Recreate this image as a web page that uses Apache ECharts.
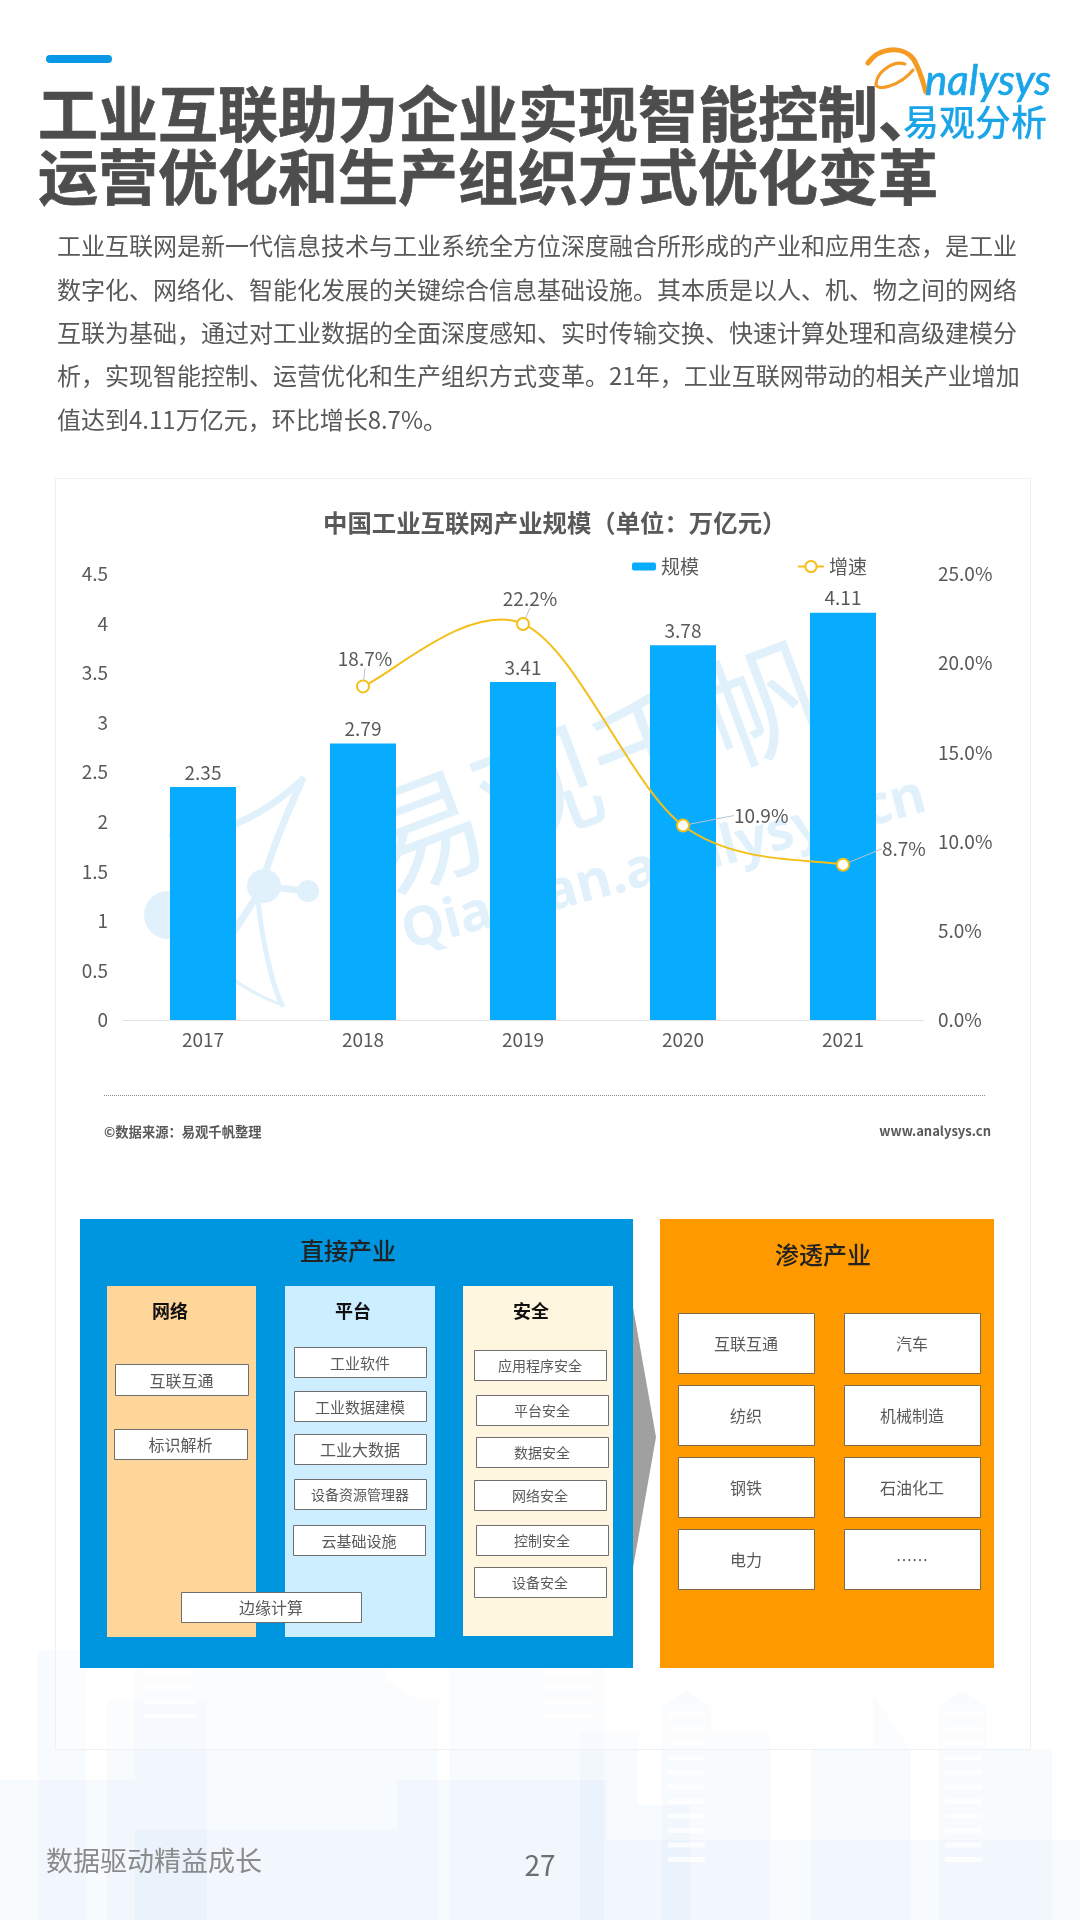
<!DOCTYPE html>
<html lang="zh-CN">

<head>
  <meta charset="UTF-8">
  <title>工业互联助力企业实现智能控制</title>
  <script src="https://cdn.jsdelivr.net/npm/echarts@6/dist/echarts.min.js"></script>
  <style>
    html, body { margin: 0; padding: 0; background: #fff; }
    #main { width: 1080px; height: 1920px; }
  </style>
</head>

<body>
  <div id="main"></div>
  <script>
    // 图表数据
    var years = ['2017', '2018', '2019', '2020', '2021'];
    var scaleValues = [2.35, 2.79, 3.41, 3.78, 4.11];
    var growthValues = [null, 18.7, 22.2, 10.9, 8.7];
    var seriesNames = ['规模', '增速'];

    // 文字
    var titleLines = ['工业互联助力企业实现智能控制、', '运营优化和生产组织方式优化变革'];
    var paragraphLines = [
      '工业互联网是新一代信息技术与工业系统全方位深度融合所形成的产业和应用生态，是工业',
      '数字化、网络化、智能化发展的关键综合信息基础设施。其本质是以人、机、物之间的网络',
      '互联为基础，通过对工业数据的全面深度感知、实时传输交换、快速计算处理和高级建模分',
      '析，实现智能控制、运营优化和生产组织方式变革。21年，工业互联网带动的相关产业增加',
      '值达到4.11万亿元，环比增长8.7%。'
    ];
    var networkItems = ['互联互通', '标识解析'];
    var platformItems = ['工业软件', '工业数据建模', '工业大数据', '设备资源管理器', '云基础设施'];
    var securityItems = ['应用程序安全', '平台安全', '数据安全', '网络安全', '控制安全', '设备安全'];
    var sectorItems = ['互联互通', '汽车', '纺织', '机械制造', '钢铁', '石油化工', '电力', '……'];

    var FONT = '"Noto Sans CJK SC", "Noto Sans", sans-serif';
    var TEXT_GREY = '#595959';
    var LINE_COLOR = '#f5bf1a';

    function txt(s, x, y, size, fill, opt) {
      opt = opt || {};
      return {
        type: 'text',
        rotation: opt.rotation || 0,
        x: x,
        y: y,
        style: {
          text: s,
          fill: fill,
          stroke: opt.stroke || null,
          lineWidth: opt.stroke ? 0.7 : 0,
          fontSize: size,
          fontFamily: opt.family || FONT,
          fontWeight: opt.weight || 'normal',
          fontStyle: opt.italic ? 'italic' : 'normal',
          textAlign: opt.align || 'left',
          textVerticalAlign: 'middle'
        }
      };
    }

    function rect(x, y, w, h, fill, stroke, r) {
      return {
        type: 'rect',
        shape: { x: x, y: y, width: w, height: h, r: r || 0 },
        style: { fill: fill, stroke: stroke || null, lineWidth: stroke ? 1 : 0 }
      };
    }

    function curve(p, color, width) {
      return {
        type: 'bezierCurve',
        shape: { x1: p[0], y1: p[1], cpx1: p[2], cpy1: p[3], cpx2: p[4], cpy2: p[5], x2: p[6], y2: p[7] },
        style: { fill: null, stroke: color, lineWidth: width, lineCap: 'round' }
      };
    }

    // 白底带框的小格子
    function box(label, x, y, w, h, size, stroke) {
      return [
        rect(x + 0.5, y + 0.5, w, h, '#fff', stroke || '#6f6f6f'),
        txt(label, x + w / 2, y + h / 2 + 1, size, TEXT_GREY, { align: 'center' })
      ];
    }

    var g = [];

    // 底部城市背景
    var buildings = [
      [38, 48, 1650], [107, 100, 1700], [135, 72, 1668], [207, 83, 1668], [290, 96, 1668],
      [386, 52, 1700], [449, 155, 1668], [580, 58, 1732], [397, 210, 1780], [638, 52, 1805],
      [662, 49, 1707], [711, 59, 1732], [811, 100, 1750], [939, 48, 1707], [987, 65, 1750],
      [0, 135, 1780], [135, 262, 1830], [607, 473, 1840]
    ];
    buildings.forEach(function (b) {
      g.push(rect(b[0], b[2], b[1], 1920 - b[2], 'rgba(70,150,235,0.035)'));
    });
    g.push({ type: 'polygon', shape: { points: [[662, 1707], [686, 1690], [711, 1707]] }, style: { fill: 'rgba(70,150,235,0.05)' } });
    g.push({ type: 'polygon', shape: { points: [[939, 1707], [963, 1690], [987, 1707]] }, style: { fill: 'rgba(70,150,235,0.05)' } });
    g.push({ type: 'polygon', shape: { points: [[386, 1700], [386, 1680], [420, 1700]] }, style: { fill: 'rgba(70,150,235,0.035)' } });
    g.push({ type: 'polygon', shape: { points: [[873, 1695], [873, 1750], [911, 1750]] }, style: { fill: 'rgba(70,150,235,0.035)' } });
    [[668, 37, 1712, 11], [945, 37, 1712, 11], [144, 52, 1670, 4], [542, 52, 1670, 4]].forEach(function (s) {
      for (var i = 0; i < s[3]; i++) {
        g.push(rect(s[0], s[2] + i * 14.5, s[1], 5, 'rgba(255,255,255,0.75)'));
      }
    });

    // 卡片边框
    g.push(rect(55.5, 478.5, 975, 1271, 'rgba(255,255,255,0.35)', '#eef1f4'));

    // 页眉
    g.push(rect(46, 55, 66, 8, '#0a97e6', null, 4));
    titleLines.forEach(function (s, i) {
      g.push(txt(s, 38, 114 + i * 63, 60, '#4d4d4d', { weight: 'bold', stroke: '#4d4d4d' }));
    });
    paragraphLines.forEach(function (s, i) {
      g.push(txt(s, 57, 246 + i * 43.4, 24, TEXT_GREY));
    });

    // 右上角标志
    g.push(curve([868, 63, 880, 46, 905, 46, 914, 60], '#f59a23', 5));
    g.push(curve([914, 60, 920, 70, 923, 82, 926, 92], '#f59a23', 5));
    g.push(curve([905, 64, 893, 60, 877, 72, 876, 84], '#f59a23', 3));
    g.push(curve([876, 84, 876, 92, 900, 86, 913, 70], '#f59a23', 3));
    g.push(txt('nalysys', 925, 81, 42, '#1aa5e8', { family: 'Lato, "Open Sans", sans-serif', italic: true, stroke: '#1aa5e8' }));
    g.push(txt('易观分析', 903, 122, 36, '#1aa5e8', { weight: 500 }));

    // 水印
    var WM = '#e0f1fc';
    g.push(txt('易观千帆', 594, 767, 122, WM, { rotation: 0.36, align: 'center' }));
    g.push(txt('Qianfan.analysys.cn', 664, 865, 54, WM, { rotation: 0.26, align: 'center', family: '"Noto Sans", sans-serif', weight: 'bold' }));
    g.push({ type: 'circle', shape: { cx: 264, cy: 886, r: 17 }, style: { fill: WM } });
    g.push({ type: 'circle', shape: { cx: 308, cy: 891, r: 11 }, style: { fill: WM } });
    g.push({ type: 'circle', shape: { cx: 168, cy: 915, r: 24 }, style: { fill: WM } });
    g.push(curve([172, 835, 220, 840, 270, 810, 302, 780], WM, 7));
    g.push(curve([302, 780, 280, 830, 268, 860, 262, 886], WM, 7));
    g.push(curve([264, 886, 280, 888, 295, 890, 308, 891], WM, 7));
    g.push(curve([264, 886, 240, 920, 225, 950, 205, 965], WM, 7));
    g.push(curve([258, 900, 262, 940, 272, 985, 282, 1005], WM, 5));
    g.push(curve([282, 1005, 240, 990, 205, 960, 190, 935], WM, 3));

    // 数据来源
    g.push({ type: 'line', shape: { x1: 104, y1: 1095.5, x2: 986, y2: 1095.5 }, style: { stroke: '#8c8c8c', lineWidth: 1, lineDash: [1, 1] } });
    g.push(txt('©数据来源：易观千帆整理', 104, 1132, 13.3, TEXT_GREY, { weight: 'bold' }));
    g.push(txt('www.analysys.cn', 991, 1131, 13, TEXT_GREY, { align: 'right', weight: 'bold' }));

    // 直接产业
    g.push(rect(80, 1219, 553, 449, '#0095df'));
    g.push(txt('直接产业', 348, 1251, 24, '#222', { align: 'center', weight: 500 }));
    g.push(rect(107, 1286, 149, 351, '#ffd699'));
    g.push(rect(285, 1286, 150, 351, '#cdeeff'));
    g.push(rect(463, 1286, 150, 350, '#fff6e0'));
    g.push(txt('网络', 170, 1311, 18, '#111', { align: 'center', weight: 'bold' }));
    g.push(txt('平台', 353, 1311, 18, '#111', { align: 'center', weight: 'bold' }));
    g.push(txt('安全', 531, 1311, 18, '#111', { align: 'center', weight: 'bold' }));

    var networkBoxes = [[115, 1364, 31], [114, 1429, 30]];
    networkItems.forEach(function (s, i) {
      g = g.concat(box(s, networkBoxes[i][0], networkBoxes[i][1], 133, networkBoxes[i][2], 16));
    });
    var platformBoxes = [[294, 1347, 15], [294, 1391, 15], [294, 1434, 16], [294, 1479, 14], [293, 1525, 15]];
    platformItems.forEach(function (s, i) {
      g = g.concat(box(s, platformBoxes[i][0], platformBoxes[i][1], 132, 30, platformBoxes[i][2]));
    });
    var securityBoxes = [[474, 1350], [476, 1395], [476, 1437], [474, 1480], [476, 1525], [474, 1567]];
    securityItems.forEach(function (s, i) {
      g = g.concat(box(s, securityBoxes[i][0], securityBoxes[i][1], 132, 30, 14));
    });
    g = g.concat(box('边缘计算', 181, 1592, 180, 30, 16));

    // 箭头
    g.push({ type: 'polygon', shape: { points: [[633, 1307], [656, 1437], [633, 1568]] }, style: { fill: '#a0a0a0' } });

    // 渗透产业
    g.push(rect(660, 1219, 334, 449, '#ff9900'));
    g.push(txt('渗透产业', 823, 1255, 24, '#222', { align: 'center', weight: 500 }));
    var sectorCols = [678, 844];
    var sectorRows = [1313, 1385, 1457, 1529];
    sectorItems.forEach(function (s, i) {
      g = g.concat(box(s, sectorCols[i % 2], sectorRows[Math.floor(i / 2)], 136, 60, 16, '#7d6a45'));
    });

    // 页脚
    g.push(txt('数据驱动精益成长', 46, 1861, 27, '#8a8a8a'));
    g.push(txt('27', 540, 1865, 28, '#6f6f6f', { align: 'center' }));

    // 增速折线标签的偏移
    var growthLabels = [
      null,
      { position: 'top', dist: 11, dx: 2, dy: 0 },
      { position: 'top', dist: 9, dx: 7, dy: 0 },
      { position: 'right', dist: 8, dx: 36, dy: -10 },
      { position: 'right', dist: 8, dx: 24, dy: -16 }
    ];
    var growthData = growthValues.map(function (v, i) {
      var l = growthLabels[i];
      if (v === null) return { value: null };
      return { value: v, label: { position: l.position, distance: l.dist } };
    });

    // 曲线按 Excel 的平滑方式画，峰值可以略超过数据点，line 系列的 smooth 做不到
    function renderCurve(params, api) {
      var i = params.dataIndex;
      if (growthValues[i] === null || i === growthValues.length - 1) return null;
      function pt(k) {
        k = Math.max(1, Math.min(growthValues.length - 1, k));
        return api.coord([k, growthValues[k]]);
      }
      var p0 = pt(i - 1), p1 = pt(i), p2 = pt(i + 1), p3 = pt(i + 2);
      return {
        type: 'bezierCurve',
        shape: {
          x1: p1[0], y1: p1[1],
          cpx1: p1[0] + (p2[0] - p0[0]) / 6, cpy1: p1[1] + (p2[1] - p0[1]) / 6,
          cpx2: p2[0] - (p3[0] - p1[0]) / 6, cpy2: p2[1] - (p3[1] - p1[1]) / 6,
          x2: p2[0], y2: p2[1]
        },
        style: { fill: null, stroke: LINE_COLOR, lineWidth: 2 }
      };
    }

    var myChart = echarts.init(document.getElementById('main'));
    var option = {
      animation: false,
      backgroundColor: '#fff',
      textStyle: { fontFamily: FONT },
      title: {
        text: '中国工业互联网产业规模（单位：万亿元）',
        left: 318,
        top: 506,
        textStyle: { fontSize: 24.4, fontWeight: 'bold', color: TEXT_GREY, fontFamily: FONT }
      },
      legend: [
        {
          data: [seriesNames[0]], left: 627, top: 552, itemWidth: 24, itemHeight: 8, itemGap: 0,
          textStyle: { fontSize: 19, color: TEXT_GREY, fontFamily: FONT }
        },
        {
          data: [seriesNames[1]], left: 792, top: 552, itemWidth: 26, itemHeight: 14, itemGap: 0,
          lineStyle: { color: LINE_COLOR, width: 2, opacity: 1 },
          textStyle: { fontSize: 19, color: TEXT_GREY, fontFamily: FONT }
        }
      ],
      grid: { left: 123, right: 157, top: 574, height: 446 },
      xAxis: {
        type: 'category',
        data: years,
        axisTick: { show: false },
        axisLine: { lineStyle: { color: '#dfe3e8' } },
        axisLabel: { fontSize: 19, color: TEXT_GREY, margin: 10 }
      },
      yAxis: [
        {
          type: 'value', min: 0, max: 4.5, interval: 0.5,
          splitLine: { show: false }, axisLine: { show: false }, axisTick: { show: false },
          axisLabel: { fontSize: 19, color: TEXT_GREY, margin: 15 }
        },
        {
          type: 'value', min: 0, max: 25, interval: 5,
          splitLine: { show: false }, axisLine: { show: false }, axisTick: { show: false },
          axisLabel: {
            fontSize: 19, color: TEXT_GREY, margin: 15,
            formatter: function (v) { return v.toFixed(1) + '%'; }
          }
        }
      ],
      graphic: { elements: g },
      series: [
        {
          name: seriesNames[0],
          type: 'bar',
          data: scaleValues,
          barWidth: 66,
          itemStyle: { color: '#08acff' },
          label: { show: true, position: 'top', fontSize: 19, color: TEXT_GREY, distance: 5 }
        },
        {
          name: '增速曲线',
          type: 'custom',
          z: 3,
          yAxisIndex: 1,
          renderItem: renderCurve,
          encode: { x: 0, y: 1 },
          data: growthValues.map(function (v, i) { return [i, v === null ? '-' : v]; })
        },
        {
          name: seriesNames[1],
          type: 'line',
          z: 4,
          yAxisIndex: 1,
          data: growthData,
          symbol: 'emptyCircle',
          symbolSize: 12,
          lineStyle: { width: 0 },
          itemStyle: { color: LINE_COLOR, borderWidth: 2 },
          label: {
            show: true, fontSize: 19, color: TEXT_GREY,
            formatter: function (p) { return p.value + '%'; }
          },
          labelLine: { show: true, lineStyle: { color: '#b8c4cc', width: 1 } },
          labelLayout: function (p) {
            var l = growthLabels[p.dataIndex];
            return l ? { dx: l.dx, dy: l.dy } : {};
          }
        }
      ]
    };
    myChart.setOption(option);
  </script>
</body>

</html>
